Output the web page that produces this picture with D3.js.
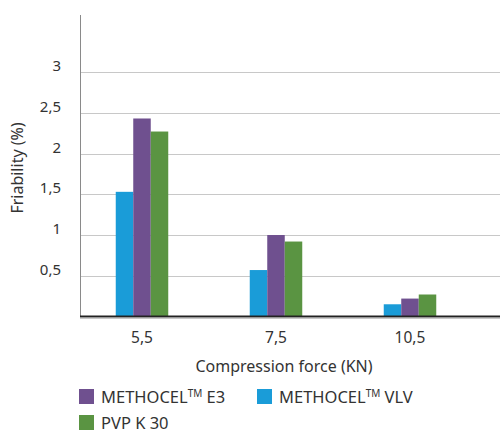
<!DOCTYPE html>
<html>
<head>
<meta charset="utf-8">
<script src="https://cdn.jsdelivr.net/npm/d3@7"></script>
<style>
  html, body { margin: 0; padding: 0; background: #fff; }
  svg text { font-family: "Noto Sans", "Open Sans", sans-serif; fill: #333; }
</style>
</head>
<body>
<svg id="chart" width="500" height="433"></svg>
<script>
const categories = ["5,5", "7,5", "10,5"];
const seriesNames = ["METHOCEL VLV", "METHOCEL E3", "PVP K 30"];
const vlv = [1.53, 0.57, 0.15];
const e3  = [2.43, 1.00, 0.22];
const pvp = [2.27, 0.92, 0.27];
const yTicks = [0.5, 1, 1.5, 2, 2.5, 3];
const yTickLabels = ["0,5", "1", "1,5", "2", "2,5", "3"];
const colors = { "METHOCEL VLV": "#1a9cd8", "METHOCEL E3": "#6f508f", "PVP K 30": "#5a9442" };

const data = categories.map((c, i) => ({ cat: c, values: [
  { key: "METHOCEL VLV", v: vlv[i] },
  { key: "METHOCEL E3", v: e3[i] },
  { key: "PVP K 30", v: pvp[i] }
]}));

const svg = d3.select("#chart");
const axisX = 80, plotRight = 500, baseY = 316.5, topY = 15;

const x = d3.scaleBand().domain(categories).range([75, 477]).padding(0);
const groupW = 52.5;
const x1 = d3.scaleBand().domain(seriesNames).range([0, groupW]).padding(0);
const y = d3.scaleLinear().domain([0, 3.7]).range([baseY, topY]);

// gridlines
svg.append("g").selectAll("line").data(yTicks).join("line")
  .attr("x1", axisX).attr("x2", plotRight)
  .attr("y1", d => Math.round(y(d)) + 0.5).attr("y2", d => Math.round(y(d)) + 0.5)
  .attr("stroke", "#c8c8c8").attr("stroke-width", 1);

// y tick labels
svg.append("g").selectAll("text").data(yTicks).join("text")
  .attr("x", 61).attr("y", d => y(d) - 1)
  .attr("text-anchor", "end")
  .attr("font-size", 15)
  .text((d, i) => yTickLabels[i]);

// bars
const groups = svg.append("g").selectAll("g").data(data).join("g")
  .attr("transform", d => `translate(${x(d.cat) + x.bandwidth() / 2 - groupW / 2},0)`);
groups.selectAll("rect").data(d => d.values).join("rect")
  .attr("x", d => x1(d.key))
  .attr("width", x1.bandwidth())
  .attr("y", d => y(d.v))
  .attr("height", d => baseY - y(d.v))
  .attr("fill", d => colors[d.key]);

// y axis line
svg.append("line").attr("x1", axisX + 0.5).attr("x2", axisX + 0.5)
  .attr("y1", topY).attr("y2", baseY).attr("stroke", "#8a8a8a").attr("stroke-width", 1);
// baseline
svg.append("line").attr("x1", axisX).attr("x2", plotRight)
  .attr("y1", baseY).attr("y2", baseY).attr("stroke", "#222").attr("stroke-width", 2);
svg.append("line").attr("x1", axisX).attr("x2", plotRight)
  .attr("y1", baseY + 1.8).attr("y2", baseY + 1.8).attr("stroke", "#bbb").attr("stroke-width", 1);

// x tick labels
svg.append("g").selectAll("text").data(categories).join("text")
  .attr("x", d => x(d) + x.bandwidth() / 2)
  .attr("y", 343)
  .attr("text-anchor", "middle")
  .attr("font-size", 15.5)
  .text(d => d);

// axis titles
svg.append("text").attr("x", 284).attr("y", 372)
  .attr("text-anchor", "middle").attr("font-size", 16)
  .text("Compression force (KN)");
svg.append("text")
  .attr("transform", "translate(23,168) rotate(-90)")
  .attr("text-anchor", "middle").attr("font-size", 16)
  .text("Friability (%)");

// legend
const legendItems = [
  { key: "METHOCEL E3", base: "METHOCEL", tm: true, rest: " E3", x: 79, y: 389 },
  { key: "METHOCEL VLV", base: "METHOCEL", tm: true, rest: " VLV", x: 257, y: 389 },
  { key: "PVP K 30", base: "PVP K 30", tm: false, rest: "", x: 79, y: 415 }
];
const lg = svg.append("g").selectAll("g").data(legendItems).join("g")
  .attr("transform", d => `translate(${d.x},${d.y})`);
lg.append("rect").attr("width", 15).attr("height", 15).attr("fill", d => colors[d.key]);
const lt = lg.append("text").attr("x", 22).attr("y", 13.5).attr("font-size", 16.5);
lt.append("tspan").text(d => d.base);
lt.filter(d => d.tm).append("tspan").attr("font-size", 10).attr("dy", -6).text("TM");
lt.filter(d => d.tm).append("tspan").attr("dy", 6).text(d => d.rest);
</script>
</body>
</html>
